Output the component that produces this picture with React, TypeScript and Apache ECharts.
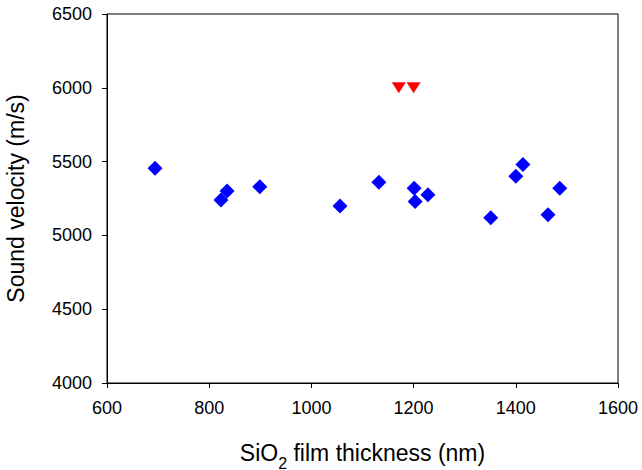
import React, { useEffect, useRef } from "react";
import * as echarts from "echarts";

const blueX = [694, 823, 835, 899, 1056, 1132, 1201, 1203, 1228, 1351, 1400, 1414, 1463, 1486];
const blueY = [5455, 5240, 5300, 5330, 5200, 5360, 5320, 5230, 5275, 5120, 5400, 5480, 5140, 5320];
const redX = [1171, 1200];
const redY = [6000, 6000];

export default function App() {
  const ref = useRef<HTMLDivElement>(null);
  useEffect(() => {
    if (!ref.current) return;
    const chart = echarts.init(ref.current, null, { renderer: "svg" });
    const font = "Liberation Sans, Arial, sans-serif";
    chart.setOption({
      animation: false,
      grid: {
        left: 107, right: 24, top: 14, bottom: 87, containLabel: false,
        outerBoundsMode: "none",
        show: true, borderColor: "#000", borderWidth: 1,
      },
      xAxis: {
        type: "value", min: 600, max: 1600, interval: 200,
        splitLine: { show: false },
        axisLine: { lineStyle: { color: "#000", width: 1 } },
        axisTick: { show: true, length: 5, lineStyle: { color: "#000" } },
        axisLabel: {
          color: "#000", fontSize: 18, fontFamily: font, margin: 16,
          formatter: (v: number) => String(v),
        },
        name: "SiO{sub|2} film thickness (nm)",
        nameLocation: "middle",
        nameGap: 52,
        nameTextStyle: {
          color: "#000", fontSize: 23, fontFamily: font,
          rich: {
            sub: { fontSize: 16, fontFamily: font, color: "#000", verticalAlign: "bottom", lineHeight: 36 },
          },
        },
      },
      yAxis: {
        type: "value", min: 4000, max: 6500, interval: 500,
        splitLine: { show: false },
        axisLine: { show: true, lineStyle: { color: "#000", width: 1 } },
        axisTick: { show: true, length: 5, lineStyle: { color: "#000" } },
        axisLabel: {
          color: "#000", fontSize: 18, fontFamily: font, margin: 15,
          formatter: (v: number) => String(v),
        },
        name: "Sound velocity (m/s)",
        nameLocation: "middle",
        nameGap: 80,
        nameTextStyle: { color: "#000", fontSize: 23, fontFamily: font },
      },
      series: [
        {
          type: "scatter",
          data: blueX.map((x, i) => [x, blueY[i]]),
          symbol: "diamond",
          symbolSize: [15, 15],
          itemStyle: { color: "#0000ff", opacity: 1 },
        },
        {
          type: "scatter",
          data: redX.map((x, i) => [x, redY[i]]),
          symbol: "triangle",
          symbolRotate: 180,
          symbolSize: [14, 11],
          itemStyle: { color: "#ff0000", opacity: 1 },
        },
      ],
    });
    return () => chart.dispose();
  }, []);
  return <div ref={ref} style={{ width: 642, height: 470, position: "absolute", left: 0, top: 0 }} />;
}
